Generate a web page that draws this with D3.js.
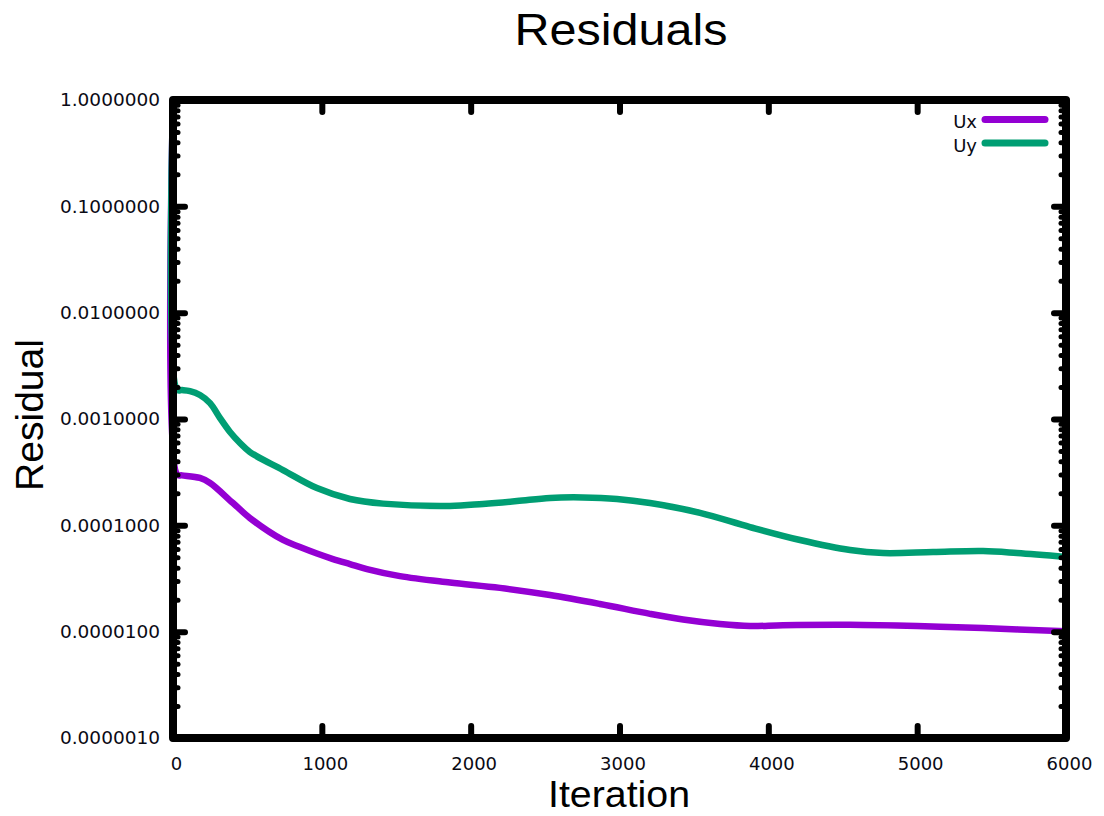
<!DOCTYPE html>
<html>
<head>
<meta charset="utf-8">
<script src="https://cdn.jsdelivr.net/npm/d3@7"></script>
<style>
  html, body { margin: 0; padding: 0; background: #fff; }
  svg { display: block; }
</style>
</head>
<body>
<svg id="chart" width="1104" height="816"></svg>
<script>
// Residual history of the velocity components
const uxIterations = [0, 28, 60, 181, 249, 403, 517, 739, 853, 967, 1075, 1189, 1303, 1525, 1861, 2197, 2533, 2869, 3205, 3427, 3675, 3877, 4098, 4549, 4999, 5443, 6000];
const uxValues = [1.0, 0.0003, 0.000295, 0.000279, 0.00025, 0.000162, 0.000117, 0.0000728, 0.0000625, 0.0000543, 0.0000482, 0.0000432, 0.0000388, 0.0000333, 0.000029, 0.0000258, 0.0000221, 0.0000182, 0.0000147, 0.000013, 0.0000118, 0.0000113, 0.0000115, 0.0000116, 0.0000113, 0.0000108, 0.0000101];

const uyIterations = [0, 28, 60, 114, 181, 249, 316, 383, 450, 517, 739, 967, 1189, 1411, 1861, 2083, 2311, 2533, 2755, 2983, 3205, 3541, 3877, 4213, 4549, 4771, 5107, 5443, 5671, 6000];
const uyValues = [1.0, 0.00188, 0.00187, 0.00183, 0.00168, 0.00141, 0.00102, 0.000755, 0.000595, 0.000489, 0.000331, 0.000224, 0.000177, 0.00016, 0.000152, 0.000159, 0.000169, 0.000181, 0.000183, 0.000177, 0.000162, 0.000131, 0.0000964, 0.0000728, 0.0000586, 0.0000549, 0.0000561, 0.0000573, 0.0000549, 0.0000504];

const seriesNames = ["Ux", "Uy"];
const seriesColors = ["#9400d3", "#009e73"];

const xTickValues = [0, 1000, 2000, 3000, 4000, 5000, 6000];
const yTickValues = [1, 0.1, 0.01, 0.001, 0.0001, 0.00001, 0.000001];
const yTickLabels = ["1.0000000", "0.1000000", "0.0100000", "0.0010000", "0.0001000", "0.0000100", "0.0000010"];

const titleText = "Residuals";
const xLabelText = "Iteration";
const yLabelText = "Residual";

const svg = d3.select("#chart");
const plotLeft = 173, plotRight = 1066, plotTop = 100, plotBottom = 738;

const x = d3.scaleLinear().domain([0, 6000]).range([plotLeft, plotRight]);
const y = d3.scaleLog().domain([1e-6, 1]).range([plotBottom, plotTop]);

const series = [
  { name: seriesNames[0], color: seriesColors[0], pts: uxIterations.map((it, i) => [it, uxValues[i]]) },
  { name: seriesNames[1], color: seriesColors[1], pts: uyIterations.map((it, i) => [it, uyValues[i]]) }
];

// Curves
const line = d3.line().x(d => x(d[0])).y(d => y(d[1])).curve(d3.curveCatmullRom.alpha(0.5));
svg.append("g").selectAll("path").data(series).join("path")
  .attr("d", d => line(d.pts))
  .attr("fill", "none")
  .attr("stroke", d => d.color)
  .attr("stroke-width", 6.5)
  .attr("stroke-linejoin", "round")
  .attr("stroke-linecap", "round");

// Minor log ticks (2..9 per decade)
const minorValues = [];
for (let k = -6; k < 0; k++) for (let m = 2; m <= 9; m++) minorValues.push(m * Math.pow(10, k));

const fontTicks = "DejaVu Sans, Verdana, sans-serif";

function styleTicks(g, width) {
  g.select(".domain").remove();
  g.selectAll(".tick line").attr("stroke", "#000").attr("stroke-width", width).attr("stroke-linecap", "round");
}

svg.append("g").attr("transform", `translate(${plotLeft},0)`)
  .call(d3.axisLeft(y).tickValues(minorValues).tickSizeInner(-5).tickSizeOuter(0).tickFormat(""))
  .call(g => styleTicks(g, 5));
svg.append("g").attr("transform", `translate(${plotRight},0)`)
  .call(d3.axisRight(y).tickValues(minorValues).tickSizeInner(-5).tickSizeOuter(0).tickFormat(""))
  .call(g => styleTicks(g, 5));

// Major ticks, all four sides
svg.append("g").attr("transform", `translate(${plotLeft},0)`)
  .call(d3.axisLeft(y).tickValues(yTickValues).tickFormat((d, i) => yTickLabels[i]).tickSizeInner(-12).tickSizeOuter(0).tickPadding(13))
  .call(g => styleTicks(g, 6))
  .call(g => g.selectAll("text").attr("font-family", fontTicks).attr("font-size", 18.5).attr("fill", "#0a0a14"));
svg.append("g").attr("transform", `translate(${plotRight},0)`)
  .call(d3.axisRight(y).tickValues(yTickValues).tickFormat("").tickSizeInner(-12).tickSizeOuter(0))
  .call(g => styleTicks(g, 6));
svg.append("g").attr("transform", `translate(0,${plotBottom})`)
  .call(d3.axisBottom(x).tickValues(xTickValues).tickFormat(d3.format("d")).tickSizeInner(-12).tickSizeOuter(0).tickPadding(19))
  .call(g => styleTicks(g, 6))
  .call(g => g.selectAll("text").attr("font-family", fontTicks).attr("font-size", 18).attr("dx", 3).attr("fill", "#0a0a14"));
svg.append("g").attr("transform", `translate(0,${plotTop})`)
  .call(d3.axisTop(x).tickValues(xTickValues).tickFormat("").tickSizeInner(-12).tickSizeOuter(0))
  .call(g => styleTicks(g, 6));

// Border
svg.append("rect")
  .attr("x", plotLeft).attr("y", plotTop)
  .attr("width", plotRight - plotLeft).attr("height", plotBottom - plotTop)
  .attr("fill", "none").attr("stroke", "#000").attr("stroke-width", 8)
  .attr("stroke-linejoin", "round");

// Legend
const legend = svg.append("g");
series.forEach((s, i) => {
  const ly = 119.5 + i * 23.5;
  legend.append("text")
    .attr("x", 977).attr("y", ly + 8.5)
    .attr("text-anchor", "end")
    .attr("font-family", fontTicks).attr("font-size", 18)
    .attr("fill", "#0a0a14")
    .text(s.name);
  legend.append("line")
    .attr("x1", 985).attr("x2", 1045).attr("y1", ly).attr("y2", ly)
    .attr("stroke", s.color).attr("stroke-width", 7).attr("stroke-linecap", "round");
});

// Titles
const fontLabels = "Liberation Sans, Arial, sans-serif";
svg.append("text")
  .attr("x", 621).attr("y", 45)
  .attr("text-anchor", "middle")
  .attr("font-family", fontLabels).attr("font-size", 44)
  .attr("textLength", 213).attr("lengthAdjust", "spacingAndGlyphs")
  .text(titleText);
svg.append("text")
  .attr("x", 619).attr("y", 807)
  .attr("text-anchor", "middle")
  .attr("font-family", fontLabels).attr("font-size", 37)
  .attr("textLength", 142).attr("lengthAdjust", "spacingAndGlyphs")
  .text(xLabelText);
svg.append("text")
  .attr("transform", "translate(43,415) rotate(-90)")
  .attr("text-anchor", "middle")
  .attr("font-family", fontLabels).attr("font-size", 39)
  .attr("textLength", 152).attr("lengthAdjust", "spacingAndGlyphs")
  .text(yLabelText);
</script>
</body>
</html>
